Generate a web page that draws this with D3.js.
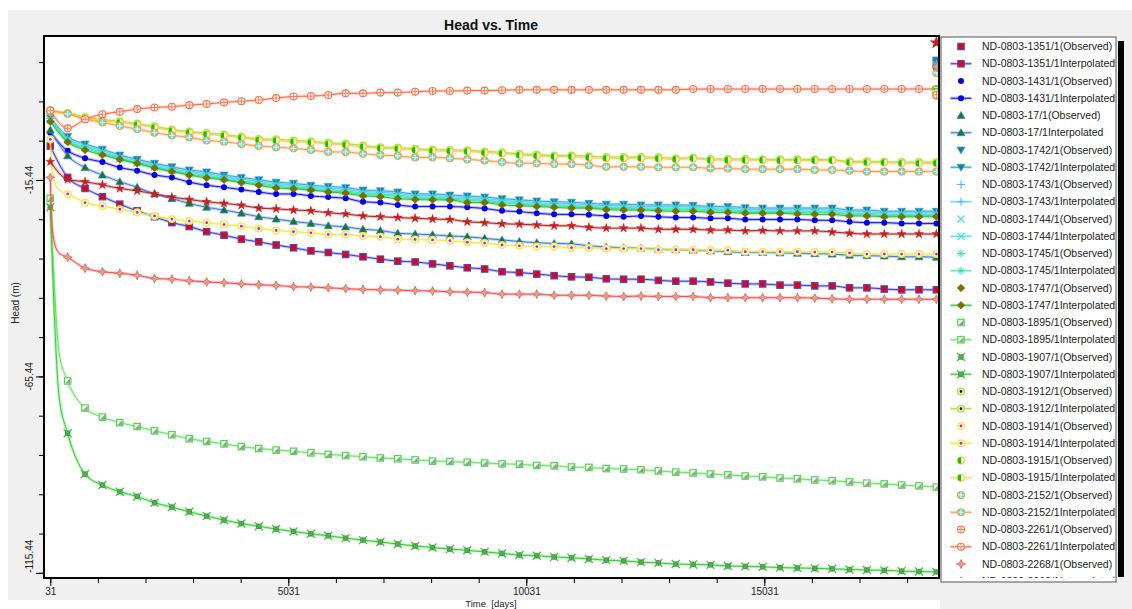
<!DOCTYPE html>
<html>
<head>
<meta charset="utf-8">
<script src="https://cdn.jsdelivr.net/npm/d3@7"></script>
<style>
body { margin: 0; background: #fff; }
svg { display: block; font-family: "Liberation Sans", Arial, sans-serif; }
</style>
</head>
<body>
<svg id="chart" width="1132" height="609"></svg>
<script>
// time of each interpolated point (days)
var days = [31, 396, 761, 1126, 1491, 1856, 2221, 2586, 2951, 3316, 3681, 4046, 4411, 4776, 5141, 5506,
  5871, 6236, 6601, 6966, 7331, 7696, 8061, 8426, 8791, 9156, 9521, 9886, 10251, 10616, 10981, 11346,
  11711, 12076, 12441, 12806, 13171, 13536, 13901, 14266, 14631, 14996, 15361, 15726, 16091, 16456,
  16821, 17186, 17551, 17916, 18281, 18646];
// extra early times used only by the steep curves
var earlyDays = [61, 121, 213];
var obsDay = 18646;

var names = ['ND-0803-1351/1', 'ND-0803-1431/1', 'ND-0803-17/1', 'ND-0803-1742/1', 'ND-0803-1743/1',
  'ND-0803-1744/1', 'ND-0803-1745/1', 'ND-0803-1747/1', 'ND-0803-1895/1', 'ND-0803-1907/1',
  'ND-0803-1912/1', 'ND-0803-1914/1', 'ND-0803-1915/1', 'ND-0803-2152/1', 'ND-0803-2261/1',
  'ND-0803-2268/1', ''];

var v1351 = [-6.8, -14.8, -17.6, -19.7, -21.6, -23.3, -24.8, -26.3, -27.3, -28.6, -29.5, -30.5, -31.2, -32.0, -32.7, -33.5, -33.9, -34.4, -35.0, -35.6, -36.1, -36.3, -36.8, -37.3, -37.8, -38.1, -38.8, -39.0, -39.4, -39.8, -40.1, -40.2, -40.6, -40.7, -40.7, -41.0, -41.2, -41.2, -41.4, -41.7, -41.9, -41.9, -42.2, -42.2, -42.4, -42.4, -42.9, -42.9, -43.2, -43.4, -43.4, -43.4];
var v1431 = [-3.5, -8.0, -9.9, -10.9, -12.3, -13.1, -14.2, -14.8, -16.0, -16.8, -17.3, -17.9, -18.5, -19.0, -19.0, -19.5, -19.8, -20.1, -21.0, -21.2, -21.8, -22.2, -22.2, -22.2, -22.4, -22.7, -23.3, -23.5, -23.9, -24.2, -24.2, -24.3, -24.6, -24.8, -24.6, -24.8, -25.0, -25.0, -25.2, -25.2, -25.5, -25.5, -25.5, -25.5, -25.7, -25.7, -26.1, -26.3, -26.3, -26.5, -26.5, -26.5];
var v17 = [-2.7, -9.3, -12.3, -14.2, -15.9, -17.3, -19.0, -20.2, -21.4, -22.4, -23.1, -23.9, -24.8, -25.4, -26.0, -26.5, -27.1, -27.4, -28.0, -28.3, -29.0, -29.2, -29.4, -29.7, -29.9, -30.3, -30.7, -31.1, -31.4, -31.6, -31.7, -32.2, -32.5, -32.7, -32.8, -33.1, -33.2, -33.3, -33.5, -33.7, -33.9, -33.9, -34.0, -34.1, -34.2, -34.3, -34.6, -34.7, -34.8, -35.0, -35.0, -35.1];
var v1742 = [0.5, -4.4, -6.3, -7.6, -9.1, -10.2, -11.2, -12.1, -12.9, -13.4, -14.2, -14.8, -15.4, -16.0, -16.3, -16.8, -17.1, -17.4, -18.0, -18.2, -18.5, -19.0, -19.0, -19.3, -19.5, -19.8, -20.2, -20.5, -20.8, -21.0, -21.1, -21.4, -21.6, -21.6, -21.8, -21.8, -21.8, -21.9, -22.2, -22.2, -22.5, -22.6, -22.6, -22.6, -22.6, -22.6, -23.1, -23.1, -23.4, -23.4, -23.4, -23.4];
var v1743 = [0.2, -4.8, -6.7, -8.0, -9.5, -10.6, -11.6, -12.5, -13.3, -13.8, -14.6, -15.2, -15.8, -16.4, -16.7, -17.2, -17.5, -17.8, -18.4, -18.6, -18.9, -19.4, -19.4, -19.7, -19.9, -20.2, -20.6, -20.9, -21.2, -21.4, -21.5, -21.8, -22.0, -22.0, -22.2, -22.2, -22.2, -22.3, -22.6, -22.6, -22.9, -23.0, -23.0, -23.0, -23.0, -23.1, -23.5, -23.5, -23.8, -23.8, -23.8, -23.8];
var v1744 = [-0.1, -5.2, -7.1, -8.4, -9.9, -11.0, -12.0, -12.9, -13.7, -14.2, -15.0, -15.6, -16.2, -16.8, -17.1, -17.6, -17.9, -18.2, -18.8, -19.0, -19.3, -19.8, -19.8, -20.1, -20.3, -20.6, -21.0, -21.3, -21.6, -21.8, -21.9, -22.2, -22.4, -22.4, -22.6, -22.6, -22.6, -22.7, -23.0, -23.0, -23.3, -23.4, -23.4, -23.4, -23.4, -23.5, -23.9, -23.9, -24.2, -24.2, -24.2, -24.2];
var v1745 = [-0.3, -5.5, -7.4, -8.7, -10.2, -11.3, -12.3, -13.2, -14.0, -14.5, -15.3, -15.9, -16.5, -17.1, -17.4, -17.9, -18.2, -18.5, -19.1, -19.3, -19.6, -20.1, -20.1, -20.4, -20.6, -20.9, -21.3, -21.6, -21.9, -22.1, -22.2, -22.5, -22.7, -22.7, -22.9, -22.9, -22.9, -23.0, -23.3, -23.3, -23.6, -23.7, -23.7, -23.7, -23.7, -23.8, -24.2, -24.2, -24.5, -24.5, -24.5, -24.5];
var v1747 = [-0.6, -5.8, -7.8, -9.1, -10.2, -11.2, -12.4, -13.3, -14.2, -14.9, -15.4, -16.1, -16.8, -17.5, -17.7, -18.0, -18.5, -18.8, -19.5, -19.7, -20.2, -20.4, -20.5, -20.5, -21.2, -21.2, -21.8, -22.0, -22.2, -22.4, -22.6, -22.6, -23.0, -23.1, -23.1, -23.3, -23.4, -23.4, -23.7, -23.7, -23.9, -23.9, -23.9, -24.1, -24.2, -24.2, -24.6, -24.6, -24.8, -24.8, -24.8, -24.8];
var v1895 = [-20.1, -66.6, -73.5, -75.8, -77.2, -78.2, -79.3, -80.3, -81.3, -82.0, -82.6, -83.3, -83.8, -84.2, -84.5, -84.9, -85.3, -85.6, -85.9, -86.2, -86.4, -86.7, -87.0, -87.1, -87.3, -87.5, -87.7, -87.8, -88.1, -88.2, -88.5, -88.6, -88.9, -89.0, -89.2, -89.5, -89.8, -90.0, -90.3, -90.5, -90.8, -91.0, -91.3, -91.5, -91.8, -92.0, -92.3, -92.6, -92.8, -93.1, -93.3, -93.6];
var v1907 = [-22.4, -79.9, -90.3, -93.1, -94.8, -96.0, -97.6, -98.7, -99.9, -101.0, -102.0, -102.9, -103.6, -104.3, -104.9, -105.5, -106.0, -106.6, -107.1, -107.6, -108.1, -108.6, -109.0, -109.4, -109.7, -110.1, -110.5, -110.9, -111.1, -111.4, -111.6, -111.9, -112.2, -112.4, -112.7, -112.9, -113.2, -113.3, -113.4, -113.7, -113.8, -113.9, -114.1, -114.2, -114.3, -114.4, -114.6, -114.7, -114.8, -115.0, -115.1, -115.2];
var v1912 = [2.2, 1.6, 0.6, -0.1, -0.5, -1.1, -1.8, -2.6, -3.1, -3.5, -3.9, -4.4, -5.0, -5.1, -5.4, -5.6, -6.0, -6.2, -6.7, -7.1, -7.2, -7.5, -7.7, -7.8, -7.9, -8.2, -8.4, -8.8, -9.0, -9.2, -9.2, -9.4, -9.6, -9.6, -9.6, -9.7, -9.9, -9.8, -10.1, -10.1, -10.1, -10.2, -10.2, -10.2, -10.2, -10.3, -10.7, -10.7, -10.8, -10.9, -10.9, -10.9];
var v1914 = [-5.1, -19.0, -21.2, -22.1, -22.9, -23.7, -24.6, -25.4, -25.9, -26.3, -26.8, -27.2, -27.8, -28.3, -28.6, -28.9, -29.3, -29.3, -29.7, -29.9, -30.5, -30.6, -30.7, -30.9, -31.3, -31.5, -32.0, -32.2, -32.4, -32.4, -32.7, -32.7, -32.9, -32.9, -32.9, -33.2, -33.2, -33.2, -33.3, -33.3, -33.7, -33.7, -33.7, -33.7, -33.8, -33.8, -34.0, -34.3, -34.3, -34.3, -34.3, -34.3];
var v1915 = [1.9, 1.4, 0.3, -0.4, -0.8, -1.4, -2.1, -2.9, -3.4, -3.8, -4.2, -4.7, -5.3, -5.4, -5.7, -5.9, -6.3, -6.5, -7.0, -7.4, -7.5, -7.8, -8.0, -8.1, -8.2, -8.5, -8.7, -9.1, -9.3, -9.5, -9.5, -9.7, -9.9, -9.9, -9.9, -10.0, -10.2, -10.0, -10.4, -10.4, -10.4, -10.4, -10.5, -10.5, -10.5, -10.5, -11.0, -11.0, -11.0, -11.2, -11.2, -11.2];
var v2152 = [2.2, 1.4, 0.0, -0.8, -1.7, -2.5, -3.4, -4.1, -4.6, -5.4, -5.7, -6.3, -6.8, -7.1, -7.4, -7.8, -8.3, -8.3, -8.8, -9.1, -9.3, -9.7, -9.7, -9.9, -10.2, -10.5, -10.9, -11.2, -11.2, -11.4, -11.4, -11.7, -12.1, -12.1, -12.1, -12.2, -12.2, -12.2, -12.5, -12.5, -12.7, -12.7, -12.7, -12.7, -12.9, -12.9, -13.1, -13.3, -13.3, -13.3, -13.3, -13.3];
var v2261 = [2.2, -2.3, 0.0, 1.3, 1.9, 2.6, 3.0, 3.2, 3.6, 3.9, 4.3, 4.6, 4.9, 5.4, 5.8, 5.9, 6.2, 6.6, 6.6, 6.8, 6.8, 7.0, 7.2, 7.2, 7.3, 7.3, 7.4, 7.5, 7.5, 7.5, 7.5, 7.5, 7.5, 7.5, 7.5, 7.5, 7.5, 7.7, 7.7, 7.7, 7.7, 7.7, 7.7, 7.7, 7.7, 7.7, 7.7, 7.7, 7.7, 7.7, 7.7, 7.7];
var v2268 = [-14.8, -35.1, -37.9, -38.8, -39.2, -39.7, -40.5, -40.7, -41.1, -41.4, -41.6, -41.9, -42.1, -42.3, -42.6, -42.7, -42.9, -43.1, -43.3, -43.4, -43.5, -43.6, -43.7, -43.9, -44.0, -44.1, -44.5, -44.5, -44.5, -44.8, -44.8, -44.8, -45.0, -45.1, -45.0, -45.1, -45.1, -45.1, -45.4, -45.4, -45.4, -45.4, -45.4, -45.4, -45.5, -45.7, -45.8, -45.8, -45.8, -45.8, -45.8, -45.8];
// series below the visible end of the legend (red stars)
var vStar = [-10.8, -15.3, -15.9, -16.7, -17.6, -18.2, -19.0, -19.8, -20.4, -21.0, -21.4, -21.9, -22.6, -22.8, -23.1, -23.3, -23.8, -24.1, -24.6, -24.8, -25.0, -25.2, -25.4, -25.5, -26.1, -26.3, -26.6, -26.7, -26.9, -27.1, -27.1, -27.5, -27.7, -27.7, -27.7, -28.0, -28.0, -28.0, -28.2, -28.2, -28.4, -28.3, -28.4, -28.4, -28.4, -28.7, -29.0, -29.2, -29.2, -29.2, -29.2, -29.2];

// values at earlyDays (null = no extra points)
var e1895 = [-29.4, -43.4, -59.2];
var e1907 = [-32.0, -51.1, -70.2];
var e1914 = [-11.6, -16.0, -18.0];
var e2268 = [-25.6, -31.5, -34.0];

// observed heads, one per well, plotted at obsDay
var observed = [14.9, 14.6, 14.4, 15.1, 14.1, 13.9, 13.6, 12.8, 7.5, 7.2, 6.7, 6.4, 5.9, 11.8, 6.2, 13.3, 19.5];

var allValues = [v1351, v1431, v17, v1742, v1743, v1744, v1745, v1747, v1895, v1907, v1912, v1914, v1915, v2152, v2261, v2268, vStar];
var allEarly = [null, null, null, null, null, null, null, null, e1895, e1907, null, e1914, null, null, null, e2268, null];

var styles = [
  {line: '#3a3ad6', marker: 'square', fill: '#ee0000', stroke: '#4848d0'},
  {line: '#1414e6', marker: 'circle', fill: '#0000ee', stroke: '#0000ee'},
  {line: '#3c7ae8', marker: 'triUp', fill: '#1a7a1a', stroke: '#3c7ae8'},
  {line: '#2ea0e0', marker: 'triDown', fill: '#1a8098', stroke: '#2ea0e0'},
  {line: '#6ccaf2', marker: 'plus', fill: 'none', stroke: '#44bbee'},
  {line: '#3ae0e0', marker: 'x', fill: 'none', stroke: '#44dddd'},
  {line: '#44eab4', marker: 'asterisk', fill: 'none', stroke: '#33ddbb'},
  {line: '#30c030', marker: 'diamond', fill: '#7a7000', stroke: '#6a6a00'},
  {line: '#66e466', marker: 'squareHalf', fill: '#9a9a9a', stroke: '#44dd44'},
  {line: '#30d030', marker: 'squareX', fill: '#707070', stroke: '#33cc33'},
  {line: '#a4e034', marker: 'ringDot', fill: '#111111', stroke: '#a8e840'},
  {line: '#ecec3c', marker: 'ringDot', fill: '#ee00ee', stroke: '#eeee44'},
  {line: '#ffcc55', marker: 'halfCircle', fill: '#00cc00', stroke: '#ffcc33'},
  {line: '#ff9a40', marker: 'circlePlus', fill: '#33eeee', stroke: '#ff9a40'},
  {line: '#ff6a40', marker: 'circleCross', fill: '#ffffff', stroke: '#ff7048'},
  {line: '#ff4a4a', marker: 'star4', fill: '#c8aa8c', stroke: '#ff5555'},
  {line: '#b42020', marker: 'star5', fill: '#cc1f1f', stroke: '#b42020'}
];

var series = names.map(function (n, i) {
  return {name: n, values: allValues[i], early: allEarly[i], obs: observed[i], style: styles[i]};
});

var xMajor = [31, 5031, 10031, 15031];
var xMinor = d3.range(31, 18700, 1000);
var yMajor = [-15.44, -65.44, -115.44];
var yMinor = d3.range(-115.44, 20, 10);

var svg = d3.select('#chart');
var plot = {left: 44, top: 36, right: 939, bottom: 578};

var xScale = d3.scaleLinear().domain([-101, 18701]).range([plot.left, plot.right]);
var yScale = d3.scaleLinear().domain([-116.75, 21.2]).range([plot.bottom, plot.top]);

// panel backgrounds
svg.append('rect').attr('x', 8).attr('y', 10).attr('width', 1124).attr('height', 590).attr('fill', '#f0f0f0');
svg.append('rect').attr('x', 940).attr('y', 560).attr('width', 192).attr('height', 49).attr('fill', '#f0f0f0');
svg.append('rect')
  .attr('x', plot.left).attr('y', plot.top)
  .attr('width', plot.right - plot.left).attr('height', plot.bottom - plot.top)
  .attr('fill', '#fff');

svg.append('text')
  .attr('x', 491).attr('y', 30)
  .attr('text-anchor', 'middle')
  .attr('font-size', '14px').attr('font-weight', 'bold').attr('fill', '#111')
  .text('Head vs. Time');

svg.append('defs').append('clipPath').attr('id', 'plotClip')
  .append('rect')
  .attr('x', plot.left).attr('y', plot.top)
  .attr('width', plot.right - plot.left).attr('height', plot.bottom - plot.top);

// marker shapes
function drawMarker(g, type, st) {
  switch (type) {
    case 'square':
      g.append('rect').attr('x', -3.2).attr('y', -3.2).attr('width', 6.4).attr('height', 6.4)
        .attr('fill', st.fill).attr('stroke', st.stroke).attr('stroke-width', 1.2);
      break;
    case 'circle':
      g.append('circle').attr('r', 3).attr('fill', st.fill);
      break;
    case 'triUp':
      g.append('path').attr('d', 'M0,-4L4,3L-4,3Z')
        .attr('fill', st.fill).attr('stroke', st.stroke).attr('stroke-width', 0.7);
      break;
    case 'triDown':
      g.append('path').attr('d', 'M0,4L4,-3L-4,-3Z')
        .attr('fill', st.fill).attr('stroke', st.stroke).attr('stroke-width', 0.7);
      break;
    case 'plus':
      g.append('path').attr('d', 'M-4,0H4M0,-4V4').attr('stroke', st.stroke).attr('stroke-width', 1.1);
      break;
    case 'x':
      g.append('path').attr('d', 'M-3.5,-3.5L3.5,3.5M-3.5,3.5L3.5,-3.5').attr('stroke', st.stroke).attr('stroke-width', 1.1);
      break;
    case 'asterisk':
      g.append('path').attr('d', 'M-4,0H4M0,-4V4M-3,-3L3,3M-3,3L3,-3')
        .attr('stroke', st.stroke).attr('stroke-width', 1);
      break;
    case 'diamond':
      g.append('path').attr('d', 'M0,-3.8L3.8,0L0,3.8L-3.8,0Z')
        .attr('fill', st.fill).attr('stroke', st.stroke).attr('stroke-width', 0.6);
      break;
    case 'squareHalf':
      g.append('rect').attr('x', -3.2).attr('y', -3.2).attr('width', 6.4).attr('height', 6.4)
        .attr('fill', '#fff').attr('stroke', st.stroke).attr('stroke-width', 1.2);
      g.append('path').attr('d', 'M2.6,-2.6L2.6,2.6L-2.6,2.6Z').attr('fill', st.fill);
      break;
    case 'squareX':
      g.append('rect').attr('x', -2.7).attr('y', -2.7).attr('width', 5.4).attr('height', 5.4).attr('fill', st.fill);
      g.append('path').attr('d', 'M-4,-4L4,4M-4,4L4,-4').attr('stroke', st.stroke).attr('stroke-width', 1.3);
      break;
    case 'ringDot':
      g.append('circle').attr('r', 3.3).attr('fill', '#fff').attr('stroke', st.stroke).attr('stroke-width', 1.5);
      g.append('circle').attr('r', 1.4).attr('fill', st.fill);
      break;
    case 'halfCircle':
      g.append('circle').attr('r', 3.3).attr('fill', '#fff').attr('stroke', st.stroke).attr('stroke-width', 1.2);
      g.append('path').attr('d', 'M0,-3.3A3.3,3.3 0 0 0 0,3.3Z').attr('fill', st.fill);
      break;
    case 'circlePlus':
      g.append('circle').attr('r', 3.5).attr('fill', st.fill).attr('stroke', st.stroke).attr('stroke-width', 1.2);
      g.append('path').attr('d', 'M-2.8,0H2.8M0,-2.8V2.8').attr('stroke', '#fff').attr('stroke-width', 1);
      break;
    case 'circleCross':
      g.append('circle').attr('r', 3.5).attr('fill', st.fill).attr('stroke', st.stroke).attr('stroke-width', 1.1);
      g.append('path').attr('d', 'M-3.5,0H3.5M0,-3.5V3.5').attr('stroke', st.stroke).attr('stroke-width', 0.9);
      break;
    case 'star4':
      g.append('path').attr('d', 'M0,-4.5L1.4,-1.4L4.5,0L1.4,1.4L0,4.5L-1.4,1.4L-4.5,0L-1.4,-1.4Z')
        .attr('fill', st.fill).attr('stroke', st.stroke).attr('stroke-width', 0.8);
      break;
    case 'star5':
      g.append('path').attr('d', d3.symbol().type(d3.symbolStar).size(26)())
        .attr('fill', st.fill).attr('stroke', st.stroke).attr('stroke-width', 0.4);
      break;
  }
}

var line = d3.line()
  .x(function (d) { return xScale(d.t); })
  .y(function (d) { return yScale(d.v); })
  .curve(d3.curveMonotoneX);

var plotG = svg.append('g').attr('clip-path', 'url(#plotClip)');

series.forEach(function (s) {
  var pts = s.values.map(function (v, i) { return {t: days[i], v: v}; });
  var linePts = pts.slice();
  if (s.early) {
    var extra = s.early.map(function (v, i) { return {t: earlyDays[i], v: v}; });
    linePts = [pts[0]].concat(extra, pts.slice(1));
  }
  var g = plotG.append('g');
  g.append('path').datum(linePts).attr('d', line)
    .attr('fill', 'none').attr('stroke', s.style.line).attr('stroke-width', 3).attr('stroke-opacity', 0.3);
  g.append('path').datum(linePts).attr('d', line)
    .attr('fill', 'none').attr('stroke', s.style.line).attr('stroke-width', 1);
  g.selectAll('g.pt')
    .data(pts)
    .enter()
    .append('g')
    .attr('class', 'pt')
    .attr('transform', function (d) { return 'translate(' + xScale(d.t) + ',' + yScale(d.v) + ')'; })
    .each(function () { drawMarker(d3.select(this), s.style.marker, s.style); });
});

// observed heads
plotG.selectAll('g.obs')
  .data(series)
  .enter()
  .append('g')
  .attr('class', 'obs')
  .attr('transform', function (d) { return 'translate(' + xScale(obsDay) + ',' + yScale(d.obs) + ')'; })
  .each(function (d) {
    var st = d.style.marker === 'star5' ? {fill: d.style.fill, stroke: d.style.stroke, big: true} : d.style;
    if (st.big) {
      d3.select(this).append('path').attr('d', d3.symbol().type(d3.symbolStar).size(60)())
        .attr('fill', st.fill);
    } else {
      drawMarker(d3.select(this), d.style.marker, d.style);
    }
  });

// frame
svg.append('rect')
  .attr('x', plot.left).attr('y', plot.top)
  .attr('width', plot.right - plot.left).attr('height', plot.bottom - plot.top)
  .attr('fill', 'none').attr('stroke', '#000').attr('stroke-width', 2);

// x axis
var xMinorAxis = svg.append('g')
  .attr('transform', 'translate(0,' + plot.bottom + ')')
  .call(d3.axisBottom(xScale).tickValues(xMinor).tickSize(5).tickFormat(''));
xMinorAxis.select('.domain').remove();
var xMajorAxis = svg.append('g')
  .attr('transform', 'translate(0,' + plot.bottom + ')')
  .call(d3.axisBottom(xScale).tickValues(xMajor).tickSize(8).tickPadding(2).tickFormat(d3.format('d')));
xMajorAxis.select('.domain').remove();
xMajorAxis.selectAll('text').attr('font-size', '10px').attr('fill', '#222')
  .attr('font-family', '"Liberation Sans", Arial, sans-serif');

// y axis
var yMinorAxis = svg.append('g')
  .attr('transform', 'translate(' + plot.left + ',0)')
  .call(d3.axisLeft(yScale).tickValues(yMinor).tickSize(5).tickFormat(''));
yMinorAxis.select('.domain').remove();
var yMajorAxis = svg.append('g')
  .attr('transform', 'translate(' + plot.left + ',0)')
  .call(d3.axisLeft(yScale).tickValues(yMajor).tickSize(8).tickFormat(''));
yMajorAxis.select('.domain').remove();

svg.selectAll('text.ylab')
  .data(yMajor)
  .enter()
  .append('text')
  .attr('class', 'ylab')
  .attr('transform', function (d) { return 'translate(33,' + yScale(d) + ') rotate(-90)'; })
  .attr('text-anchor', function (d, i) { return i === yMajor.length - 1 ? 'start' : 'middle'; })
  .attr('font-size', '10px').attr('fill', '#222')
  .text(function (d) { return d.toFixed(2); });

svg.append('text')
  .attr('transform', 'translate(19,303) rotate(-90)')
  .attr('text-anchor', 'middle')
  .attr('font-size', '10px').attr('fill', '#222')
  .text('Head (m)');

svg.append('text')
  .attr('x', 491).attr('y', 607)
  .attr('text-anchor', 'middle')
  .attr('font-size', '9.5px').attr('fill', '#222')
  .style('white-space', 'pre')
  .text('Time  [days]');

// legend
var legend = {x: 941, y: 37, w: 175, h: 541, row: 17.25, first: 46.5};
svg.append('defs').append('clipPath').attr('id', 'legClip')
  .append('rect').attr('x', legend.x).attr('y', legend.y).attr('width', legend.w).attr('height', legend.h);
svg.append('rect')
  .attr('x', legend.x).attr('y', legend.y).attr('width', legend.w).attr('height', legend.h + 4)
  .attr('fill', '#fff').attr('stroke', '#555').attr('stroke-width', 1);
svg.append('rect').attr('x', 1118).attr('y', 41).attr('width', 6).attr('height', 536).attr('fill', '#000');

var legRows = [];
series.forEach(function (s) {
  if (!s.name) return;
  legRows.push({s: s, label: s.name + '(Observed)', line: false});
  legRows.push({s: s, label: s.name + 'Interpolated', line: true});
});

var legG = svg.append('g').attr('clip-path', 'url(#legClip)');
var rows = legG.selectAll('g.row')
  .data(legRows)
  .enter()
  .append('g')
  .attr('class', 'row')
  .attr('transform', function (d, i) { return 'translate(0,' + (legend.first + i * legend.row) + ')'; });

rows.filter(function (d) { return d.line; })
  .append('path')
  .attr('d', 'M950.5,0H971.5')
  .attr('stroke', function (d) { return d.s.style.line; })
  .attr('stroke-width', 3).attr('stroke-opacity', 0.3);
rows.filter(function (d) { return d.line; })
  .append('path')
  .attr('d', 'M950.5,0H971.5')
  .attr('stroke', function (d) { return d.s.style.line; })
  .attr('stroke-width', 1);
rows.append('g')
  .attr('transform', 'translate(961,0)')
  .each(function (d) { drawMarker(d3.select(this), d.s.style.marker, d.s.style); });
rows.append('text')
  .attr('x', 982).attr('y', 3.7)
  .attr('font-size', '10.5px').attr('fill', '#222')
  .text(function (d) { return d.label; });
</script>
</body>
</html>
